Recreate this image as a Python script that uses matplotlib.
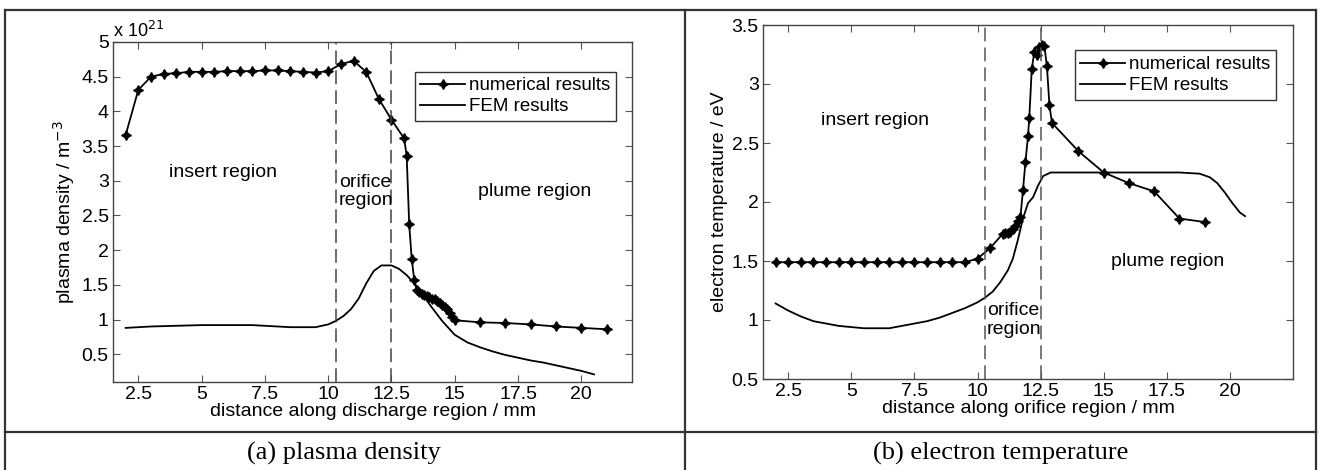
import matplotlib
matplotlib.use("Agg")
import matplotlib.pyplot as plt
from matplotlib.lines import Line2D

plt.rcParams['font.family'] = ['Liberation Sans', 'DejaVu Sans']

# (a) plasma density, units of 1e21 m^-3
dens_num_x = [2.0, 2.5, 3.0, 3.5, 4.0, 4.5, 5.0, 5.5, 6.0, 6.5, 7.0, 7.5, 8.0, 8.5,
              9.0, 9.5, 10.0, 10.5, 11.0, 11.5, 12.0, 12.5, 13.0, 13.1, 13.2, 13.3,
              13.4, 13.5, 13.6, 13.7, 13.8, 13.9, 14.0, 14.1, 14.2, 14.3, 14.4, 14.5,
              14.6, 14.7, 14.8, 14.9, 15.0, 16.0, 17.0, 18.0, 19.0, 20.0, 21.0]
dens_num_y = [3.66, 4.31, 4.50, 4.54, 4.55, 4.57, 4.57, 4.57, 4.58, 4.58, 4.58, 4.59,
              4.59, 4.58, 4.57, 4.56, 4.58, 4.68, 4.73, 4.57, 4.18, 3.88, 3.61, 3.36,
              2.37, 1.87, 1.57, 1.42, 1.39, 1.37, 1.36, 1.34, 1.32, 1.30, 1.29, 1.27,
              1.24, 1.21, 1.18, 1.15, 1.10, 1.04, 0.99, 0.96, 0.95, 0.93, 0.90, 0.88, 0.86]
dens_fem_x = [2.0, 3.0, 4.0, 5.0, 6.0, 7.0, 8.0, 8.5, 9.0, 9.5, 10.0, 10.3, 10.6, 10.9,
              11.2, 11.5, 11.8, 12.1, 12.5, 12.8, 13.1, 13.4, 13.7, 14.0, 14.5, 15.0,
              15.5, 16.0, 16.5, 17.0, 17.5, 18.0, 18.5, 19.0, 19.5, 20.0, 20.5]
dens_fem_y = [0.88, 0.90, 0.91, 0.92, 0.92, 0.92, 0.90, 0.89, 0.89, 0.89, 0.93, 0.98,
              1.05, 1.15, 1.30, 1.52, 1.70, 1.78, 1.78, 1.73, 1.64, 1.52, 1.38, 1.22,
              0.98, 0.78, 0.67, 0.60, 0.54, 0.49, 0.45, 0.41, 0.38, 0.34, 0.30, 0.26, 0.21]

# (b) electron temperature, eV
temp_num_x = [2.0, 2.5, 3.0, 3.5, 4.0, 4.5, 5.0, 5.5, 6.0, 6.5, 7.0, 7.5, 8.0, 8.5,
              9.0, 9.5, 10.0, 10.5, 11.0, 11.1, 11.2, 11.3, 11.4, 11.5, 11.6, 11.7,
              11.8, 11.9, 12.0, 12.05, 12.15, 12.25, 12.35, 12.45, 12.55, 12.65, 12.75,
              12.85, 12.95, 14.0, 15.0, 16.0, 17.0, 18.0, 19.0]
temp_num_y = [1.49, 1.49, 1.49, 1.49, 1.49, 1.49, 1.49, 1.49, 1.49, 1.49, 1.49, 1.49,
              1.49, 1.49, 1.49, 1.49, 1.52, 1.61, 1.73, 1.74, 1.74, 1.75, 1.77, 1.80,
              1.84, 1.87, 2.10, 2.34, 2.56, 2.71, 3.13, 3.27, 3.25, 3.31, 3.33, 3.32,
              3.15, 2.82, 2.67, 2.43, 2.25, 2.16, 2.09, 1.86, 1.83]
temp_fem_x = [2.0, 2.5, 3.0, 3.5, 4.0, 4.5, 5.0, 5.5, 6.0, 6.5, 7.0, 7.5, 8.0, 8.5,
              9.0, 9.5, 10.0, 10.3, 10.6, 10.9, 11.2, 11.4, 11.6, 11.8, 12.0, 12.2,
              12.4, 12.6, 12.9, 14.0, 16.0, 18.0, 18.8, 19.2, 19.5, 19.8, 20.1, 20.4, 20.6]
temp_fem_y = [1.14, 1.08, 1.03, 0.99, 0.97, 0.95, 0.94, 0.93, 0.93, 0.93, 0.95, 0.97,
              0.99, 1.02, 1.06, 1.10, 1.15, 1.19, 1.24, 1.32, 1.42, 1.52, 1.68, 1.86,
              1.99, 2.04, 2.14, 2.22, 2.25, 2.25, 2.25, 2.25, 2.24, 2.21, 2.16, 2.08,
              1.99, 1.91, 1.88]

xticks = [2.5, 5, 7.5, 10, 12.5, 15, 17.5, 20]
xtick_labels = ['2.5', '5', '7.5', '10', '12.5', '15', '17.5', '20']
dens_yticks = [0.5, 1, 1.5, 2, 2.5, 3, 3.5, 4, 4.5, 5]
dens_ytick_labels = ['0.5', '1', '1.5', '2', '2.5', '3', '3.5', '4', '4.5', '5']
temp_yticks = [0.5, 1, 1.5, 2, 2.5, 3, 3.5]
temp_ytick_labels = ['0.5', '1', '1.5', '2', '2.5', '3', '3.5']
boundaries = [10.3, 12.5]

W, H = 1320, 470
fig = plt.figure(figsize=(W / 100, H / 100), dpi=100)

# table frame around the two panels (pixel coords, y from bottom)
frame = dict(color='#333333', lw=1.6, transform=fig.transFigure, clip_on=False)
for xs, ys in [([5, 1316], [460, 460]), ([5, 1316], [38, 38]),
               ([5, 5], [0, 460]), ([685, 685], [0, 460]), ([1316, 1316], [0, 460])]:
    fig.add_artist(Line2D([x / W for x in xs], [y / H for y in ys], **frame))

fig.text(344 / W, 17 / H, '(a) plasma density', ha='center', va='center',
         family='Liberation Serif', fontsize=19)
fig.text(1001 / W, 17 / H, '(b) electron temperature', ha='center', va='center',
         family='Liberation Serif', fontsize=19)

num_style = dict(color='black', lw=1.3, marker=(4, 1, 0), ms=7)
fem_style = dict(color='black', lw=1.3)
fs = 14


def style_axes(ax, yticks, ylabels):
    ax.set_xticks(xticks)
    ax.set_xticklabels(xtick_labels)
    ax.set_yticks(yticks)
    ax.set_yticklabels(ylabels)
    ax.tick_params(direction='in', top=True, right=True, labelsize=fs,
                   length=5, width=0.8, color='#555555', pad=3)
    for s in ax.spines.values():
        s.set_color('#444444')
        s.set_linewidth(1.0)


legend_kw = dict(loc='upper right', fontsize=13.5, frameon=True, fancybox=False,
                 edgecolor='#333333', framealpha=1, handlelength=2.4,
                 handletextpad=0.2, borderpad=0.3, labelspacing=0.2, borderaxespad=0)

# ---- (a)
ax1 = fig.add_axes([113 / W, 88 / H, 519 / W, 340 / H])
ax1.plot(dens_num_x, dens_num_y, label='numerical results', **num_style)
ax1.plot(dens_fem_x, dens_fem_y, label='FEM results', **fem_style)
for b in boundaries:
    ax1.axvline(b, color='#444444', lw=1.1, dashes=(9, 4))
ax1.set_xlim(1.5, 22)
ax1.set_ylim(0.1, 5)
style_axes(ax1, dens_yticks, dens_ytick_labels)
ax1.set_xlabel('distance along discharge region / mm', fontsize=fs, labelpad=0)
ax1.set_ylabel('plasma density / m$^{-3}$', fontsize=fs, labelpad=3)
ax1.text(0.0, 1.004, 'x 10$^{21}$', transform=ax1.transAxes, fontsize=13,
         ha='left', va='bottom')
ax1.text(3.7, 3.12, 'insert region', fontsize=fs, va='center')
ax1.text(10.42, 2.85, 'orifice\nregion', fontsize=fs, va='center', linespacing=1.1)
ax1.text(15.9, 2.85, 'plume region', fontsize=fs, va='center')
ax1.legend(bbox_to_anchor=(0.969, 0.913), **legend_kw)

# ---- (b)
ax2 = fig.add_axes([763 / W, 91 / H, 530 / W, 354 / H])
ax2.plot(temp_num_x, temp_num_y, label='numerical results', **num_style)
ax2.plot(temp_fem_x, temp_fem_y, label='FEM results', **fem_style)
for b in boundaries:
    ax2.axvline(b, color='#555555', lw=1.1, dashes=(9, 4))
ax2.set_xlim(1.5, 22.5)
ax2.set_ylim(0.5, 3.5)
style_axes(ax2, temp_yticks, temp_ytick_labels)
ax2.set_xlabel('distance along orifice region / mm', fontsize=fs, labelpad=0)
ax2.set_ylabel('electron temperature / eV', fontsize=fs, labelpad=3)
ax2.text(3.78, 2.69, 'insert region', fontsize=fs, va='center')
ax2.text(10.37, 1.0, 'orifice\nregion', fontsize=fs, va='center', linespacing=1.1)
ax2.text(15.3, 1.5, 'plume region', fontsize=fs, va='center')
ax2.legend(bbox_to_anchor=(0.968, 0.928), **legend_kw)

fig.savefig('out.png', dpi=100)
